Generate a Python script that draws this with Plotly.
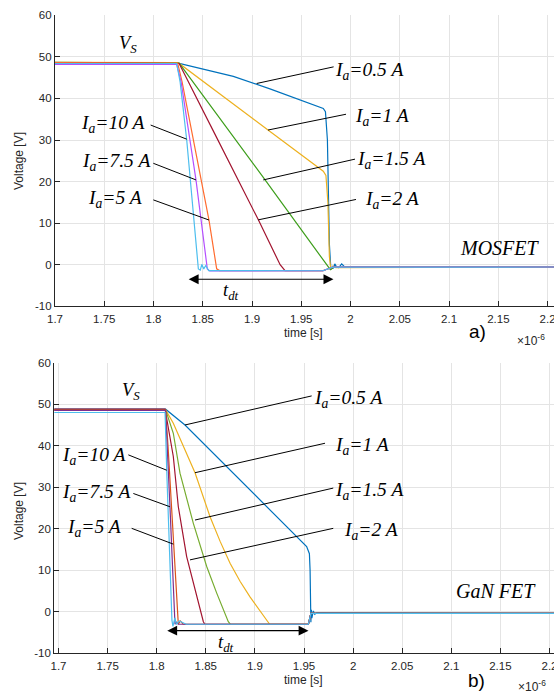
import plotly.graph_objects as go

# ---------------- data (time in units of 1e-6 s, voltage in V) ----------------
# (a) MOSFET
mos_t_05 = [1.70, 1.825, 1.881, 1.9182, 1.9723, 1.9745, 1.9765, 1.9785, 1.980, 1.9825, 1.984, 1.986, 1.988, 1.991, 1.994, 2.21]
mos_v_05 = [48.6, 48.5, 45.3, 42.3, 37.6, 36.8, 30.0, 5.0, -1.0, -0.8, 0.2, -0.6, -0.7, 0.2, -0.5, -0.55]
mos_t_1 = [1.70, 1.825, 1.9162, 1.9723, 1.975, 1.977, 1.9785, 1.980, 1.982, 1.985, 2.21]
mos_v_1 = [48.7, 48.6, 32.4, 22.5, 21.5, 15.0, 2.0, -1.2, -0.3, -0.7, -0.55]
mos_t_15 = [1.70, 1.826, 1.9114, 1.9795, 1.983, 2.21]
mos_v_15 = [48.7, 48.5, 21.0, -1.2, -0.6, -0.55]
mos_t_2 = [1.70, 1.826, 1.86, 1.9064, 1.9285, 1.9335, 1.972, 1.982, 2.21]
mos_v_2 = [48.6, 48.4, 32.5, 10.8, 0.0, -1.4, -1.45, -0.55, -0.55]
mos_t_5 = [1.70, 1.8245, 1.829, 1.8563, 1.8641, 1.867, 1.972, 1.982, 2.21]
mos_v_5 = [48.6, 48.5, 44.0, 10.75, -1.0, -1.4, -1.45, -0.55, -0.55]
mos_t_75 = [1.70, 1.8235, 1.828, 1.8431, 1.8546, 1.857, 1.972, 1.982, 2.21]
mos_v_75 = [48.2, 48.2, 44.0, 20.4, -1.0, -1.5, -1.45, -0.55, -0.55]
mos_t_10 = [1.70, 1.8235, 1.827, 1.8337, 1.8455, 1.8475, 1.849, 1.851, 1.853, 1.856, 1.972, 1.982, 2.21]
mos_v_10 = [48.4, 48.4, 44.0, 30.0, -1.0, -1.3, 0.1, -1.0, -0.2, -1.4, -1.45, -0.6, -0.55]

# (b) GaN FET
gan_t_05 = [1.69, 1.809, 1.8288, 1.8509, 1.9357, 1.9527, 1.9555, 1.9562, 1.957, 1.9575, 1.958, 1.9595, 1.961, 1.963, 2.21]
gan_v_05 = [48.8, 48.8, 45.0, 39.8, 19.7, 15.7, 14.0, 10.0, -2.5, 0.5, -1.5, 0.2, -0.6, -0.2, -0.4]
gan_t_1 = [1.69, 1.809, 1.8169, 1.839, 1.8543, 1.8647, 1.8747, 1.885, 1.895, 1.9136, 1.915, 1.9545, 1.957, 2.21]
gan_v_1 = [48.7, 48.7, 45.4, 33.5, 22.9, 16.9, 11.7, 7.3, 3.6, -2.5, -3.0, -3.0, -0.4, -0.4]
gan_t_15 = [1.69, 1.809, 1.8169, 1.8237, 1.8373, 1.8509, 1.8611, 1.8729, 1.875, 1.9545, 1.957, 2.21]
gan_v_15 = [48.7, 48.7, 43.0, 33.4, 21.3, 10.9, 4.5, -2.4, -3.0, -3.0, -0.4, -0.4]
gan_t_2 = [1.69, 1.8085, 1.8169, 1.822, 1.8305, 1.839, 1.8475, 1.849, 1.9545, 1.957, 2.21]
gan_v_2 = [48.8, 48.8, 37.4, 25.3, 13.3, 5.3, -2.4, -3.0, -3.0, -0.4, -0.4]
gan_t_5 = [1.69, 1.809, 1.8115, 1.8169, 1.8215, 1.822, 1.824, 1.827, 1.9545, 1.957, 2.21]
gan_v_5 = [48.6, 48.6, 40.0, 16.3, -2.0, -3.0, -2.2, -3.0, -3.0, -0.4, -0.4]
gan_t_75 = [1.69, 1.809, 1.8135, 1.818, 1.8186, 1.820, 1.822, 1.9545, 1.957, 2.21]
gan_v_75 = [48.5, 48.5, 25.3, -1.5, -3.0, -2.5, -3.0, -3.0, -0.4, -0.4]
gan_t_10 = [1.69, 1.8085, 1.8102, 1.8155, 1.8165, 1.8185, 1.820, 1.823, 1.830, 1.9545, 1.957, 2.21]
gan_v_10 = [48.0, 48.0, 34.0, -2.0, -3.5, -1.5, -3.0, -2.2, -3.0, -3.0, -0.4, -0.4]

series_names = ["I_a=0.5 A", "I_a=1 A", "I_a=1.5 A", "I_a=2 A", "I_a=5 A", "I_a=7.5 A", "I_a=10 A"]
mos_series = [(mos_t_05, mos_v_05), (mos_t_1, mos_v_1), (mos_t_15, mos_v_15), (mos_t_2, mos_v_2),
              (mos_t_5, mos_v_5), (mos_t_75, mos_v_75), (mos_t_10, mos_v_10)]
gan_series = [(gan_t_05, gan_v_05), (gan_t_1, gan_v_1), (gan_t_15, gan_v_15), (gan_t_2, gan_v_2),
              (gan_t_5, gan_v_5), (gan_t_75, gan_v_75), (gan_t_10, gan_v_10)]
mos_colors = ["#0072BD", "#EDB120", "#3E9E1C", "#A2142F", "#FF6B2E", "#B44EFF", "#4DBEEE"]
gan_colors = ["#0072BD", "#EDB120", "#77AC30", "#A2142F", "#D95319", "#7E2F8E", "#4DBEEE"]

x_ticks = [1.7, 1.75, 1.8, 1.85, 1.9, 1.95, 2.0, 2.05, 2.1, 2.15, 2.2]
x_ticktext = ["1.7", "1.75", "1.8", "1.85", "1.9", "1.95", "2", "2.05", "2.1", "2.15", "2.2"]
y_ticks = [-10, 0, 10, 20, 30, 40, 50, 60]
y_ticktext = ["-10", "0", "10", "20", "30", "40", "50", "60"]

# ---------------- figure ----------------
W, H = 554, 692
fig = go.Figure()
for (t, v), c, n in zip(mos_series, mos_colors, series_names):
    fig.add_trace(go.Scatter(x=t, y=v, mode="lines", line=dict(color=c, width=1.2),
                             name=n, xaxis="x", yaxis="y", showlegend=False))
for (t, v), c, n in zip(gan_series, gan_colors, series_names):
    fig.add_trace(go.Scatter(x=t, y=v, mode="lines", line=dict(color=c, width=1.2),
                             name=n, xaxis="x2", yaxis="y2", showlegend=False))

TICKFONT = dict(family="Liberation Sans, Arial, sans-serif", size=11.5, color="#262626")
axis_common = dict(showline=True, linecolor="#262626", linewidth=1.2, ticks="inside",
                   ticklen=5, tickcolor="#262626", tickwidth=1, showgrid=True,
                   gridcolor="#e4e4e4", gridwidth=1, zeroline=False, mirror=False,
                   tickfont=TICKFONT, automargin=False)

fig.update_layout(
    width=W, height=H, margin=dict(l=0, r=0, t=0, b=0),
    paper_bgcolor="white", plot_bgcolor="white",
    xaxis=dict(domain=[55 / W, 1], range=[1.7, 2.2065], tickvals=x_ticks, ticktext=x_ticktext,
               anchor="y", ticklabeloverflow="allow", ticklabelstandoff=2, **axis_common),
    yaxis=dict(domain=[1 - 306.3 / H, 1 - 15.3 / H], range=[-10, 60], tickvals=y_ticks,
               ticktext=y_ticktext, anchor="x", **axis_common),
    xaxis2=dict(domain=[54.3 / W, 1], range=[1.6957, 2.2046], tickvals=x_ticks, ticktext=x_ticktext,
                anchor="y2", ticklabeloverflow="allow", ticklabelstandoff=2, **axis_common),
    yaxis2=dict(domain=[1 - 653.3 / H, 1 - 362.7 / H], range=[-10, 60], tickvals=y_ticks,
                ticktext=y_ticktext, anchor="x2", **axis_common),
)

SERIF = "Liberation Serif, Times New Roman, serif"
LBL = 19.5
ann = []
shapes = []


def lab(text, x, y, xanchor, ax, size=LBL):
    yr = "y" if ax == "x" else "y2"
    ann.append(dict(text=text, x=x, y=y, xref=ax, yref=yr, xanchor=xanchor, yanchor="middle",
                    showarrow=False, font=dict(family=SERIF, size=size, color="black")))


def ptr(x0, y0, x1, y1, ax):
    yr = "y" if ax == "x" else "y2"
    shapes.append(dict(type="line", x0=x0, y0=y0, x1=x1, y1=y1, xref=ax, yref=yr,
                       line=dict(color="black", width=1)))


def ia(s):
    return "<i>I<sub>a</sub>=" + s + " A</i>"


# top plot labels
lab("<i>V<sub>S</sub></i>", 1.7741, 53.0, "center", "x", 18.5)
lab(ia("0.5"), 1.9822, 46.6, "left", "x"); ptr(1.9047, 43.6, 1.9828, 47.6, "x")
lab(ia("1"), 2.0025, 35.5, "left", "x"); ptr(1.9162, 32.4, 1.9954, 36.2, "x")
lab(ia("1.5"), 2.0045, 25.2, "left", "x"); ptr(1.9114, 20.4, 2.0045, 25.4, "x")
lab(ia("2"), 2.0126, 15.6, "left", "x"); ptr(1.9064, 10.8, 2.0055, 15.7, "x")
lab(ia("10"), 1.7934, 33.8, "right", "x"); ptr(1.7971, 33.6, 1.8337, 30.2, "x")
lab(ia("7.5"), 1.7985, 24.7, "right", "x"); ptr(1.7998, 24.4, 1.8431, 20.4, "x")
lab(ia("5"), 1.7903, 15.8, "right", "x"); ptr(1.7998, 15.6, 1.8563, 10.75, "x")
lab("<i>MOSFET</i>", 2.1517, 4.0, "center", "x", 20)
lab("<i>t<sub>dt</sub></i>", 1.8786, -6.5, "center", "x", 18.5)

# bottom plot labels
lab("<i>V<sub>S</sub></i>", 1.7738, 53.0, "center", "x2", 18.5)
lab(ia("10"), 1.7708, 37.5, "right", "x2"); ptr(1.7711, 37.8, 1.8102, 34.1, "x2")
lab(ia("7.5"), 1.7748, 28.6, "right", "x2"); ptr(1.7762, 28.5, 1.8135, 25.3, "x2")
lab(ia("5"), 1.7657, 20.2, "right", "x2"); ptr(1.7745, 20.1, 1.8169, 16.3, "x2")
lab(ia("0.5"), 1.9581, 51.3, "left", "x2"); ptr(1.8288, 45.0, 1.9578, 52.0, "x2")
lab(ia("1"), 1.9795, 39.9, "left", "x2"); ptr(1.839, 33.5, 1.9714, 40.6, "x2")
lab(ia("1.5"), 1.9795, 29.1, "left", "x2"); ptr(1.839, 22.1, 1.9798, 29.8, "x2")
lab(ia("2"), 1.9887, 19.5, "left", "x2"); ptr(1.8339, 12.5, 1.9798, 20.1, "x2")
lab("<i>GaN FET</i>", 2.1455, 5.0, "center", "x2", 20)
lab("<i>t<sub>dt</sub></i>", 1.8706, -7.7, "center", "x2", 18.5)

# t_dt double arrows
for x0, x1, y, axn in [(1.8342, 1.9826, -3.5, "x"), (1.8092, 1.9546, -4.55, "x2")]:
    yr = "y" if axn == "x" else "y2"
    ann.append(dict(x=x1, y=y, ax=x0, ay=y, xref=axn, yref=yr, axref=axn, ayref=yr, text="",
                    showarrow=True, arrowhead=2, arrowside="end+start", arrowsize=1.8,
                    arrowwidth=1.1, arrowcolor="black", standoff=0, startstandoff=0))

SANS = "Liberation Sans, Arial, sans-serif"


def ptext(text, px, py, size=12, xanchor="center", angle=0, color="#262626"):
    ann.append(dict(text=text, x=px / W, y=1 - py / H, xref="paper", yref="paper",
                    xanchor=xanchor, yanchor="middle", showarrow=False, textangle=angle,
                    font=dict(family=SANS, size=size, color=color)))


ptext("Voltage [V]", 19, 161, 12, angle=-90)
ptext("Voltage [V]", 19, 511, 12, angle=-90)
ptext("time [s]", 303, 333, 12)
ptext("time [s]", 303, 680, 12)
ptext("a)", 477, 331, 19, color="black")
ptext("b)", 476, 680, 19, color="black")
ptext("×10<sup>-6</sup>", 515, 340, 12, xanchor="left")
ptext("×10<sup>-6</sup>", 516, 686, 12, xanchor="left")

fig.update_layout(annotations=ann, shapes=shapes)
fig.write_html("out.html", config={"displayModeBar": False},
               post_script="document.body.style.margin='0';document.body.style.overflow='hidden';")
